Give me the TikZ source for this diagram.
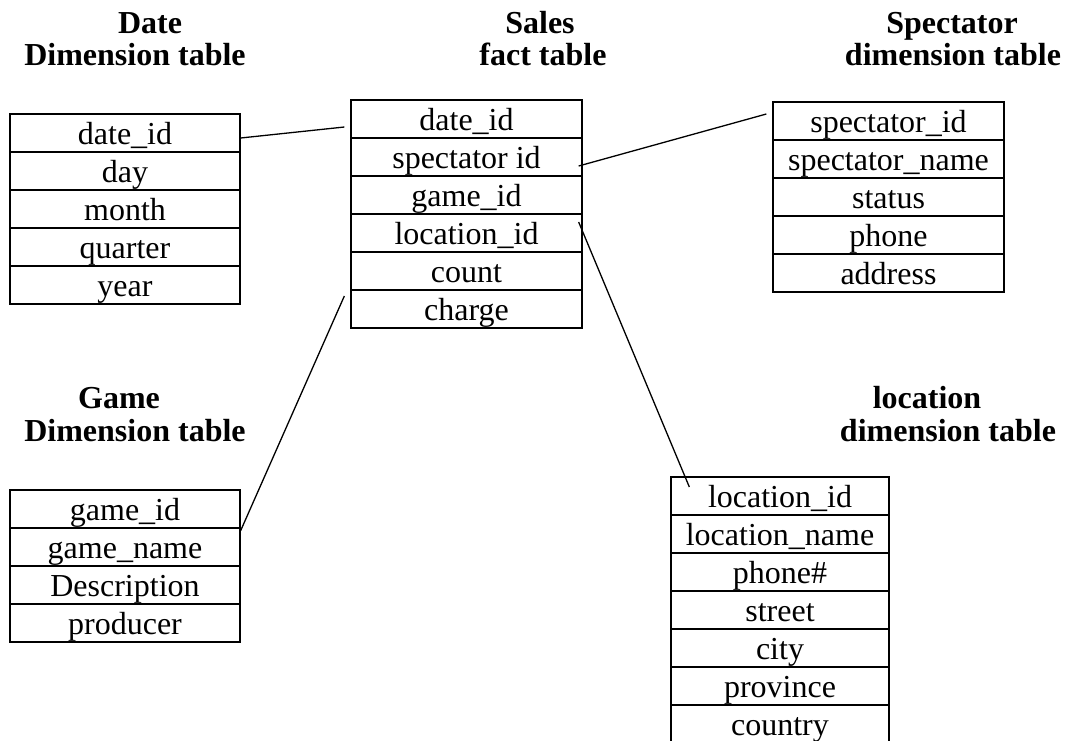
\documentclass[tikz,border=0pt]{standalone}
\usepackage{fontspec}
\setmainfont{Liberation Serif}
\begin{document}
\begin{tikzpicture}[x=1pt, y=-1pt,
    field/.style={shape=rectangle, draw, line width=1.3pt, minimum width=230pt, minimum height=38pt, inner sep=0pt, text height=25.5pt, text depth=3.5pt, font=\fontsize{32}{38}\selectfont},
    heading/.style={anchor=base, inner sep=0pt, font=\fontsize{32}{38}\selectfont\bfseries},
    link/.style={line width=1.3pt}]
            \useasboundingbox (0, 0) rectangle (1069, 740);
            % Headings:
            \node[heading] (datehead) at (150, 33){Date};
            \node[heading] (datesub) at (135, 65){Dimension table};
            \node[heading] (saleshead) at (540, 33){Sales};
            \node[heading] (salessub) at (543, 65){fact table};
            \node[heading] (spechead) at (952, 33){Spectator};
            \node[heading] (specsub) at (953, 65){dimension table};
            \node[heading] (gamehead) at (119, 408){Game};
            \node[heading] (gamesub) at (135, 441){Dimension table};
            \node[heading] (lochead) at (927, 408){location};
            \node[heading] (locsub) at (948, 441){dimension table};
            % Date dimension table:
            \node[field] (dd1) at (125, 133){date\_id};
            \node[field] (dd2) at (125, 171){day};
            \node[field] (dd3) at (125, 209){month};
            \node[field] (dd4) at (125, 247){quarter};
            \node[field] (dd5) at (125, 285){year};
            % Sales fact table:
            \node[field, minimum width=231pt] (sf1) at (466.5, 119){date\_id};
            \node[field, minimum width=231pt] (sf2) at (466.5, 157){spectator id};
            \node[field, minimum width=231pt] (sf3) at (466.5, 195){game\_id};
            \node[field, minimum width=231pt] (sf4) at (466.5, 233){location\_id};
            \node[field, minimum width=231pt] (sf5) at (466.5, 271){count};
            \node[field, minimum width=231pt] (sf6) at (466.5, 309){charge};
            % Spectator dimension table:
            \node[field, minimum width=231pt] (sp1) at (888.5, 121){spectator\_id};
            \node[field, minimum width=231pt] (sp2) at (888.5, 159){spectator\_name};
            \node[field, minimum width=231pt] (sp3) at (888.5, 197){status};
            \node[field, minimum width=231pt] (sp4) at (888.5, 235){phone};
            \node[field, minimum width=231pt] (sp5) at (888.5, 273){address};
            % Game dimension table:
            \node[field] (gm1) at (125, 509){game\_id};
            \node[field] (gm2) at (125, 547){game\_name};
            \node[field] (gm3) at (125, 585){Description};
            \node[field] (gm4) at (125, 623){producer};
            % Location dimension table:
            \node[field, minimum width=218pt] (lc1) at (780, 496){location\_id};
            \node[field, minimum width=218pt] (lc2) at (780, 534){location\_name};
            \node[field, minimum width=218pt] (lc3) at (780, 572){phone\#};
            \node[field, minimum width=218pt] (lc4) at (780, 610){street};
            \node[field, minimum width=218pt] (lc5) at (780, 648){city};
            \node[field, minimum width=218pt] (lc6) at (780, 686){province};
            \node[field, minimum width=218pt] (lc7) at (780, 724){country};
            % Links:
            \draw[link] ([yshift=-5pt]dd1.east) -- ([xshift=-6pt, yshift=-8pt]sf1.west);
            \draw[link] ([xshift=-4pt, yshift=-9pt]sf2.east) -- ([xshift=-6pt, yshift=7pt]sp1.west);
            \draw[link] ([xshift=-4pt, yshift=11pt]sf4.east) -- ([xshift=19pt, yshift=9pt]lc1.west);
            \draw[link] ([xshift=-6pt, yshift=13pt]sf6.west) -- ([yshift=-2pt]gm1.south east);
        \end{tikzpicture}
\end{document}
